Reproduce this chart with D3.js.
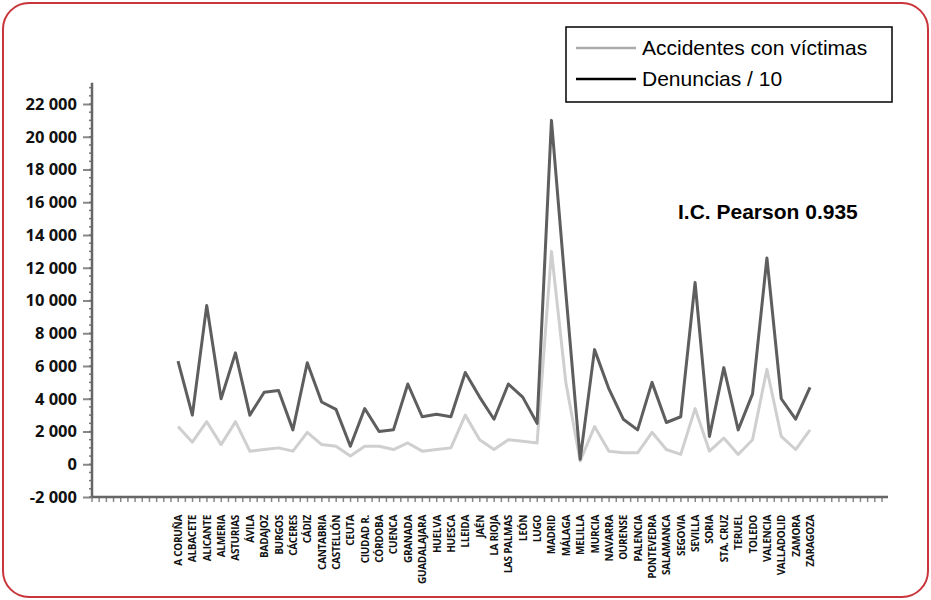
<!DOCTYPE html>
<html>
<head>
<meta charset="utf-8">
<script src="https://cdn.jsdelivr.net/npm/d3@7"></script>
<style>
  body { margin: 0; background: #fff; }
  svg { display: block; }
</style>
</head>
<body>
<script>
// Provinces, in the order they appear on the x axis
const provincias = [
    "A CORUÑA", "ALBACETE", "ALICANTE", "ALMERIA", "ASTURIAS", "ÁVILA", "BADAJOZ", "BURGOS",
    "CÁCERES", "CÁDIZ", "CANTABRIA", "CASTELLÓN", "CEUTA", "CIUDAD R.", "CÓRDOBA", "CUENCA",
    "GRANADA", "GUADALAJARA", "HUELVA", "HUESCA", "LLEIDA", "JAÉN", "LA RIOJA", "LAS PALMAS",
    "LEÓN", "LUGO", "MADRID", "MÁLAGA", "MELILLA", "MURCIA", "NAVARRA", "OURENSE", "PALENCIA",
    "PONTEVEDRA", "SALAMANCA", "SEGOVIA", "SEVILLA", "SORIA", "STA. CRUZ", "TERUEL", "TOLEDO",
    "VALENCIA", "VALLADOLID", "ZAMORA", "ZARAGOZA"
];

// Denuncias / 10
const denuncias = [
    6300, 3000, 9700, 4000, 6800, 3000, 4400, 4500,
    2100, 6200, 3800, 3350, 1100, 3400, 2000, 2100,
    4900, 2900, 3050, 2900, 5600, 4100, 2750, 4900,
    4100, 2500, 21000, 10500, 300, 7000, 4600, 2750, 2100,
    5000, 2550, 2900, 11100, 1700, 5900, 2100, 4300,
    12600, 4000, 2750, 4700
];

// Accidentes con víctimas
const accidentes = [
    2300, 1350, 2600, 1200, 2600, 800, 900, 1000,
    800, 1950, 1200, 1100, 500, 1100, 1100, 900,
    1300, 800, 900, 1000, 3000, 1500, 900, 1500,
    1400, 1300, 13000, 5000, 200, 2300, 800, 700, 700,
    1950, 900, 600, 3400, 800, 1600, 600, 1500,
    5800, 1700, 900, 2100
];

const yTicks = d3.range(-2000, 22001, 2000);

const series = [
    { name: "Accidentes con víctimas", values: accidentes, color: "#cfcfcf", legend: "#ababab" },
    { name: "Denuncias / 10", values: denuncias, color: "#5e5e5e", legend: "#000000" }
];

const width = 931, height = 600;

const svg = d3.select("body").append("svg")
    .attr("width", width)
    .attr("height", height);

// Red rounded frame
svg.append("rect")
    .attr("x", 3).attr("y", 3)
    .attr("width", width - 6).attr("height", height - 6)
    .attr("rx", 26).attr("ry", 26)
    .attr("fill", "none")
    .attr("stroke", "#c9353a")
    .attr("stroke-width", 2);

let x = d3.scalePoint(provincias, [178, 810]);
let y = d3.scaleLinear([-2000, 22000], [497, 104]);

let axisLeft = 92, axisRight = 888;

// Y axis
let yAxis = svg.append("g")
    .attr("transform", `translate(${axisLeft},0)`)
    .call(d3.axisLeft(y)
        .tickValues(yTicks)
        .tickSize(9)
        .tickPadding(6)
        .tickFormat(d => d3.format(",")(d).replace(/,/g, " ").replace("−", "-")));

yAxis.select(".domain").remove();
yAxis.selectAll(".tick line").attr("stroke", "#888").attr("stroke-width", 2);
yAxis.selectAll(".tick text")
    .style("font-family", "'Open Sans', sans-serif")
    .style("font-weight", "700")
    .style("font-size", "16.5px")
    .attr("fill", "#111");

// minor marks on y axis
svg.append("g")
    .selectAll("line")
    .data(d3.range(-2000, 23001, 500))
    .join("line")
    .attr("x1", axisLeft - 3).attr("x2", axisLeft)
    .attr("y1", d => y(d)).attr("y2", d => y(d))
    .attr("stroke", "#777").attr("stroke-width", 1.5);

svg.append("line")
    .attr("x1", axisLeft).attr("x2", axisLeft)
    .attr("y1", y(-2000)).attr("y2", y(23300))
    .attr("stroke", "#666").attr("stroke-width", 2.5);

// X axis line with small marks every half category
let step = x.step() / 2;
svg.append("g")
    .selectAll("line")
    .data(d3.range(axisLeft, axisRight, step))
    .join("line")
    .attr("x1", d => d).attr("x2", d => d)
    .attr("y1", y(-2000)).attr("y2", y(-2000) + 5)
    .attr("stroke", "#888").attr("stroke-width", 1.5);

svg.append("line")
    .attr("x1", axisLeft).attr("x2", axisRight)
    .attr("y1", y(-2000)).attr("y2", y(-2000))
    .attr("stroke", "#666").attr("stroke-width", 2.5);

// Category labels, rotated
svg.append("g")
    .selectAll("text")
    .data(provincias)
    .join("text")
    .attr("transform", d => `translate(${x(d) + 4},515) rotate(-90)`)
    .attr("text-anchor", "end")
    .style("font-family", "'Open Sans', sans-serif")
    .style("font-weight", "700")
    .style("font-size", "10px")
    .style("letter-spacing", "-0.3px")
    .attr("fill", "#111")
    .text(d => d);

// Series lines
let line = d3.line()
    .x((d, i) => x(provincias[i]))
    .y(d => y(d));

svg.append("g")
    .selectAll("path")
    .data(series)
    .join("path")
    .attr("d", d => line(d.values))
    .attr("fill", "none")
    .attr("stroke", d => d.color)
    .attr("stroke-width", 3)
    .attr("stroke-linejoin", "round");

// Legend
let legend = svg.append("g").attr("transform", "translate(566,27)");
legend.append("rect")
    .attr("width", 326).attr("height", 75)
    .attr("fill", "#fff")
    .attr("stroke", "#000").attr("stroke-width", 1.5);

let items = legend.selectAll(".item")
    .data(series)
    .join("g")
    .attr("class", "item")
    .attr("transform", (_, i) => `translate(0,${21 + i * 31})`);

items.append("line")
    .attr("x1", 10).attr("x2", 70)
    .attr("stroke", d => d.legend)
    .attr("stroke-width", 2.5);

items.append("text")
    .attr("x", 76).attr("y", 7)
    .style("font-family", "'Liberation Sans', Arial, sans-serif")
    .style("font-size", "21px")
    .attr("fill", "#000")
    .text(d => d.name);

// Correlation note
svg.append("text")
    .attr("x", 678).attr("y", 219)
    .style("font-family", "'Liberation Sans', Arial, sans-serif")
    .style("font-weight", "700")
    .style("font-size", "21px")
    .attr("fill", "#000")
    .text("I.C. Pearson 0.935");
</script>
</body>
</html>
